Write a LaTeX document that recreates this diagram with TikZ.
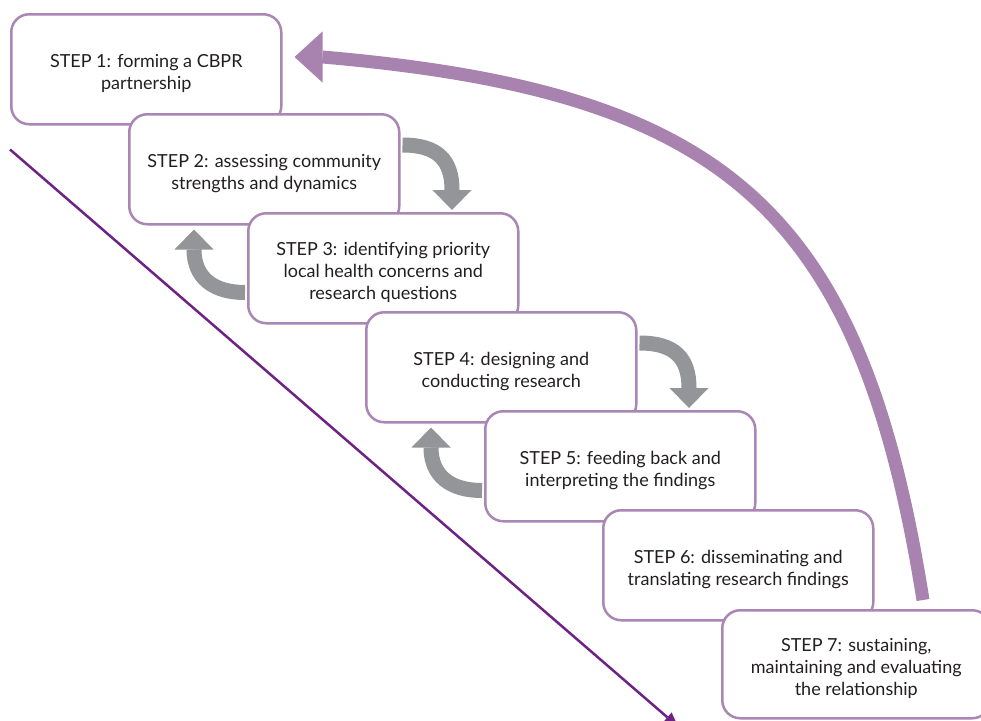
\documentclass[tikz,border=0pt]{standalone}
\usepackage{fontspec}
\setmainfont{Lato}
\usetikzlibrary{arrows.meta,calc}
\definecolor{boxpurple}{HTML}{A986B3}
\definecolor{arcpurple}{HTML}{A983B0}
\definecolor{diagpurple}{HTML}{6E2283}
\definecolor{arrowgray}{HTML}{939598}
\definecolor{txt}{HTML}{231F20}
\newcommand{\stepstrut}{\rule{0pt}{22.5pt}}
\begin{document}
\begin{tikzpicture}[x=1pt,y=-1pt,
  stepbox/.style={draw=boxpurple, line width=2.5pt, fill=white, rounded corners=18pt,
    minimum width=270pt, minimum height=110pt, anchor=north west, align=center,
    text=txt, font=\fontsize{18}{22}\selectfont, inner sep=0pt},
  grayarrow/.style={draw=arrowgray, line width=15pt, -{Triangle[length=20pt,width=39pt,line width=0pt]}},
  bigarrow/.style={draw=arcpurple, line width=13pt, -{Triangle[length=28pt,width=51pt,line width=0pt]}},
  diagline/.style={draw=diagpurple, line width=2.5pt, -{Triangle[length=14pt,width=13pt,line width=0pt]}}]
\clip (0,0) rectangle (981,720);
\fill[white] (0,0) rectangle (981,720);

\node[stepbox] (s1) at (10,13) {\stepstrut STEP 1: forming a CBPR\\partnership};
\node[stepbox] (s2) at (128,113) {\stepstrut STEP 2: assessing community\\strengths and dynamics};
\node[stepbox] (s3) at (247,212) {\stepstrut STEP 3: identifying priority\\local health concerns and\\research questions};
\node[stepbox] (s4) at (365,311) {\stepstrut STEP 4: designing and\\conducting research};
\node[stepbox] (s5) at (484,410) {\stepstrut STEP 5: feeding back and\\interpreting the findings};
\node[stepbox] (s6) at (602,509) {\stepstrut STEP 6: disseminating and\\translating research findings};
\node[stepbox, minimum width=268pt, minimum height=108pt] (s7) at (721,609) {\stepstrut STEP 7: sustaining,\\maintaining and evaluating\\the relationship};

% big return arc
\coordinate (arcS) at ([shift={(202,-9)}]s7.north west);
\coordinate (arcT) at ([shift={(12,44)}]s1.north east);
\draw[bigarrow] (arcS) .. controls +(-62,-390) and +(405,35) .. ([shift={(28,0)}]arcT) -- (arcT);

% gray arrows
\coordinate (a23s) at ([shift={(2,32)}]s2.north east);
\coordinate (a23t) at ([shift={(205,-2)}]s3.north west);
\draw[grayarrow] (a23s) .. controls +(35,0) and +(0,-30) .. ([shift={(0,-20)}]a23t) -- (a23t);

\coordinate (a45s) at ([shift={(2,32)}]s4.north east);
\coordinate (a45t) at ([shift={(205,-2)}]s5.north west);
\draw[grayarrow] (a45s) .. controls +(35,0) and +(0,-30) .. ([shift={(0,-20)}]a45t) -- (a45t);

\coordinate (a32s) at ([shift={(-2,-32)}]s3.south west);
\coordinate (a32t) at ([shift={(66,4)}]s2.south west);
\draw[grayarrow] (a32s) .. controls +(-32,0) and +(0,28) .. ([shift={(0,20)}]a32t) -- (a32t);

\coordinate (a54s) at ([shift={(-2,-32)}]s5.south west);
\coordinate (a54t) at ([shift={(66,4)}]s4.south west);
\draw[grayarrow] (a54s) .. controls +(-32,0) and +(0,28) .. ([shift={(0,20)}]a54t) -- (a54t);

% diagonal timeline
\coordinate (d0) at ([shift={(0,24)}]s1.south west);
\coordinate (d1) at ([shift={(-43,7)}]s7.south west);
\draw[diagline] (d0) -- (d1);
\end{tikzpicture}
\end{document}
